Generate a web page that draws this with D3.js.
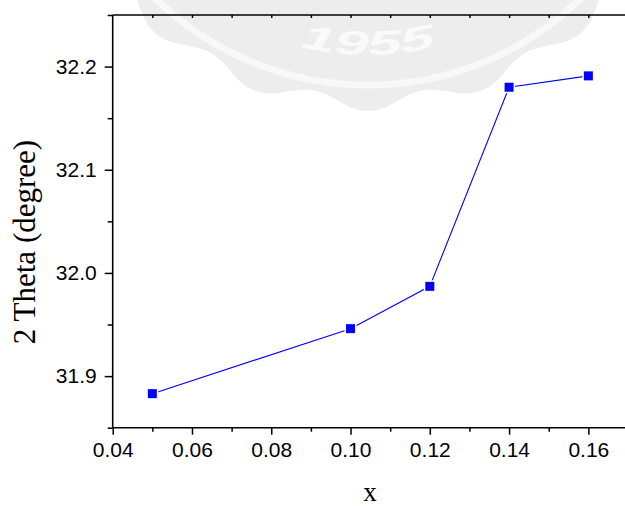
<!DOCTYPE html>
<html>
<head>
<meta charset="utf-8">
<script src="https://cdn.jsdelivr.net/npm/d3@7"></script>
<style>
  html, body { margin: 0; padding: 0; background: #fff; overflow: hidden; }
  svg { display: block; }
</style>
</head>
<body>
<svg id="chart" width="625" height="506"></svg>
<script>
// Composition x and the measured 2θ peak position
const xValues = [0.05, 0.10, 0.12, 0.14, 0.16];
const thetaValues = [31.883, 31.946, 31.987, 32.180, 32.191];

// Tick positions
const xMajorTicks = [0.04, 0.06, 0.08, 0.10, 0.12, 0.14, 0.16];
const xMinorTicks = [0.05, 0.07, 0.09, 0.11, 0.13, 0.15];
const xTopTicks = [0.05, 0.06, 0.07, 0.08, 0.09, 0.10, 0.11, 0.12, 0.13, 0.14, 0.15, 0.16];
const yMajorTicks = [31.9, 32.0, 32.1, 32.2];
const yMinorTicks = [31.85, 31.95, 32.05, 32.15, 32.25];

const xTitle = "x";
const yTitle = "2 Theta (degree)";
const sealText = "1955";

const svg = d3.select("#chart");
const plotL = 112.7, plotR = 628, plotT = 15, plotB = 427.7;

const x = d3.scaleLinear().domain([0.04, 0.17]).range([plotL, plotR]);
const y = d3.scaleLinear().domain([31.85, 32.25]).range([plotB, plotT]);

// Faint seal in the background
const seal = svg.append("g").attr("class", "seal");
const cx = 368, cy = -219, R = 322;
const nTeeth = 18;
const gearPts = d3.range(0, 360, 2).map(a => {
  const t = a * Math.PI / 180;
  return [t, R + 8 * Math.cos(nTeeth * t)];
});
seal.append("path")
  .attr("transform", `translate(${cx},${cy})`)
  .attr("d", d3.lineRadial().angle(d => d[0]).radius(d => d[1]).curve(d3.curveCardinalClosed)(gearPts))
  .attr("fill", "#ededed");
seal.append("circle")
  .attr("cx", cx).attr("cy", cy).attr("r", 304)
  .attr("fill", "none").attr("stroke", "#f8f8f8").attr("stroke-width", 7);
const arcR = 274;
seal.append("path")
  .attr("id", "sealArc")
  .attr("fill", "none")
  .attr("d", `M ${cx - arcR * Math.sin(0.6)} ${cy + arcR * Math.cos(0.6)} A ${arcR} ${arcR} 0 0 0 ${cx + arcR * Math.sin(0.6)} ${cy + arcR * Math.cos(0.6)}`);
seal.append("text")
  .attr("font-family", "Liberation Sans, Arial, sans-serif")
  .attr("font-weight", "bold")
  .attr("font-style", "italic")
  .attr("font-size", 34)
  .attr("fill", "#fafafa")
  .append("textPath")
  .attr("href", "#sealArc")
  .attr("startOffset", "50%")
  .attr("text-anchor", "middle")
  .attr("textLength", 137)
  .attr("lengthAdjust", "spacingAndGlyphs")
  .text(sealText);

const axisFont = "Liberation Sans, Arial, sans-serif";
const styleAxis = g => {
  g.selectAll("path.domain").remove();
  g.selectAll(".tick line").attr("stroke", "#000").attr("stroke-width", 1.5);
  g.selectAll(".tick text").attr("font-family", axisFont).attr("font-size", 21).attr("fill", "#000");
};

// Bottom axis
svg.append("g").attr("transform", `translate(0,${plotB})`)
  .call(d3.axisBottom(x).tickValues(xMajorTicks).tickSize(7).tickSizeOuter(0).tickPadding(7).tickFormat(d3.format(".2f")))
  .call(styleAxis);
svg.append("g").attr("transform", `translate(0,${plotB})`)
  .call(d3.axisBottom(x).tickValues(xMinorTicks).tickSize(4).tickSizeOuter(0).tickFormat(""))
  .call(styleAxis);

// Top axis, ticks inward
svg.append("g").attr("transform", `translate(0,${plotT})`)
  .call(d3.axisBottom(x).tickValues(xTopTicks).tickSize(3).tickSizeOuter(0).tickFormat(""))
  .call(styleAxis);

// Left axis
svg.append("g").attr("transform", `translate(${plotL},0)`)
  .call(d3.axisLeft(y).tickValues(yMajorTicks).tickSize(8).tickSizeOuter(0).tickPadding(8).tickFormat(d3.format(".1f")))
  .call(styleAxis);
svg.append("g").attr("transform", `translate(${plotL},0)`)
  .call(d3.axisLeft(y).tickValues(yMinorTicks).tickSize(5).tickSizeOuter(0).tickFormat(""))
  .call(styleAxis);

// Frame lines
svg.append("line").attr("x1", plotL).attr("x2", plotL).attr("y1", plotT).attr("y2", plotB)
  .attr("stroke", "#000").attr("stroke-width", 1.6);
svg.append("line").attr("x1", plotL).attr("x2", plotR).attr("y1", plotB).attr("y2", plotB)
  .attr("stroke", "#000").attr("stroke-width", 1.6);
svg.append("line").attr("x1", plotL).attr("x2", plotR).attr("y1", plotT).attr("y2", plotT)
  .attr("stroke", "#000").attr("stroke-width", 1.6);

// Data line and square markers
const pts = xValues.map((v, i) => ({ x: v, y: thetaValues[i] }));
svg.append("path")
  .datum(pts)
  .attr("fill", "none")
  .attr("stroke", "#0000ff")
  .attr("stroke-width", 1.1)
  .attr("d", d3.line().x(d => x(d.x)).y(d => y(d.y)));

const s = 9, gap = 12;
svg.append("g").selectAll("rect.gap").data(pts).join("rect")
  .attr("x", d => x(d.x) - gap / 2).attr("y", d => y(d.y) - gap / 2)
  .attr("width", gap).attr("height", gap).attr("fill", "#fff");
svg.append("g").selectAll("rect.mark").data(pts).join("rect")
  .attr("x", d => x(d.x) - s / 2).attr("y", d => y(d.y) - s / 2)
  .attr("width", s).attr("height", s).attr("fill", "#0000ff");

// Axis titles
svg.append("text")
  .attr("x", 370).attr("y", 501)
  .attr("text-anchor", "middle")
  .attr("font-family", "Liberation Serif, Times New Roman, serif")
  .attr("font-size", 27)
  .text(xTitle);
svg.append("text")
  .attr("transform", "translate(35,242) rotate(-90)")
  .attr("text-anchor", "middle")
  .attr("font-family", "Liberation Serif, Times New Roman, serif")
  .attr("font-size", 31)
  .text(yTitle);
</script>
</body>
</html>
